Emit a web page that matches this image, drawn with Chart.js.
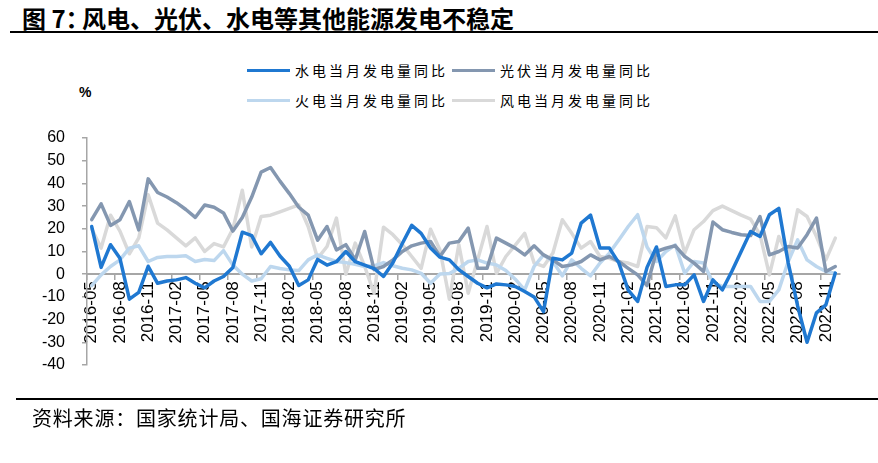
<!DOCTYPE html>
<html>
<head>
<meta charset="utf-8">
<script src="https://cdn.jsdelivr.net/npm/chart.js@4.4.0/dist/chart.umd.min.js"></script>
<style>
  body { margin: 0; background: #fff; }
  #wrap { position: relative; width: 878px; height: 463px; overflow: hidden; background: #fff; }
  #title { position: absolute; left: 22px; top: 0px; font: bold 24px "Noto Sans CJK SC", sans-serif; color: #000; white-space: nowrap; }
  #title .c { letter-spacing: -13px; }
  #rule-top { position: absolute; left: 10px; right: 0; top: 31px; height: 2px; background: #000; }
  #rule-bottom { position: absolute; left: 16px; right: 0; top: 398px; height: 2px; background: #000; }
  #source { position: absolute; left: 32px; top: 403px; font: 20px "Noto Sans CJK SC", sans-serif; color: #000; letter-spacing: 0.8px; white-space: nowrap; }
  #unit { position: absolute; left: 79px; top: 84px; font: bold 14px "Liberation Sans", Arial, sans-serif; color: #000; }
  .leg { position: absolute; height: 20px; display: flex; align-items: center; font: 14px "Noto Sans CJK SC", sans-serif; letter-spacing: 3px; color: #000; white-space: nowrap; }
  .leg i { display: inline-block; width: 43px; height: 3px; margin-right: 5px; }
  canvas { position: absolute; left: 0; top: 0; }
</style>
</head>
<body>
<div id="wrap">
  <div id="title">图 7<span class="c">：</span> 风电、光伏、水电等其他能源发电不稳定</div>
  <div id="rule-top"></div>
  <div id="unit">%</div>
  <div id="legend"></div>
  <canvas id="chart" width="878" height="463"></canvas>
  <div id="rule-bottom"></div>
  <div id="source">资料来源：国家统计局、国海证券研究所</div>
</div>
<script>
// monthly categories, 2016-05 .. 2022-12
const months = [
  "2016-05","2016-06","2016-07","2016-08","2016-09","2016-10","2016-11","2016-12",
  "2017-01","2017-02","2017-03","2017-04","2017-05","2017-06","2017-07","2017-08","2017-09","2017-10","2017-11","2017-12",
  "2018-01","2018-02","2018-03","2018-04","2018-05","2018-06","2018-07","2018-08","2018-09","2018-10","2018-11","2018-12",
  "2019-01","2019-02","2019-03","2019-04","2019-05","2019-06","2019-07","2019-08","2019-09","2019-10","2019-11","2019-12",
  "2020-01","2020-02","2020-03","2020-04","2020-05","2020-06","2020-07","2020-08","2020-09","2020-10","2020-11","2020-12",
  "2021-01","2021-02","2021-03","2021-04","2021-05","2021-06","2021-07","2021-08","2021-09","2021-10","2021-11","2021-12",
  "2022-01","2022-02","2022-03","2022-04","2022-05","2022-06","2022-07","2022-08","2022-09","2022-10","2022-11","2022-12"
];

// 当月发电量同比, %
const hydro = [
  21, 3, 13, 7, -11, -8, 3.5, -4, -3, -2.5,
  -1.5, -4, -6, -3, -1, 3, 18.5, 17, 9, 14,
  8, 3.5, -5, -2.5, 6.5, 4, 5.5, 10, 5.5, 4,
  2.5, -1, 5, 13.5, 21.5, 18, 11.5, 7.5, 6.3, 2,
  -1, -4, -6, -4.3, -4.7, -5.4, -7.6, -10, -16.5, 7,
  6.3, 9.3, 22.5, 26, 11.5, 11.5, 5, -7, -12, 3,
  12, -5.4, -4.7, -4.7, -0.3, -12, -2.5, -6.9, 1.2, 10,
  18.8, 16.6, 26.2, 29, 5, -14, -30, -17, -13.5, 0.5
];
const solar = [
  24, 31, 21.5, 24, 32, 19.5, 42, 36, 34, 31.5,
  28.5, 25, 30.5, 29.5, 27, 19, 25, 34, 45, 47,
  41, 35.5, 29.5, 26, 15, 21, 10.7, 13, 6.3, 18.8,
  2, 3.4, 6.3, 10, 12.5, 13.7, 14.4, 7.8, 13.7, 14.4,
  20.3, 2.6, 2.6, 15.9, 13.7, 11.5, 8.5, 12.5, 8.5, 6.3,
  3.4, 4.1, 5.6, 8.5, 6.3, 7.8, 5.6, 2.6, -0.3, -5,
  10, 11.5, 12.5, 7.8, 4.9, 1.2, 23, 19.6, 18.4, 17.4,
  17, 25.4, 8.5, 10, 12.2, 11.5, 17.4, 24.7, 1.2, 3.4
];
const thermal = [
  -5, -0.3, 3.4, 6.3, 11.5, 12.5, 5.6, 7.4, 7.8, 7.8,
  8.1, 5.6, 6.5, 6, 10.4, 4, 0, -3, -2, 3.4,
  2.5, 1.9, 1.6, 6.3, 8.5, 7, 5.6, 5.1, 4.4, 3.4,
  3.7, 5.1, 3.7, 2.6, 1.9, 0.4, -4, 0.1, 0.3, 2.6,
  5.6, 6.3, 4.9, 4.1, 1.6, -2.2, -6.9, 3.4, 8.5, 5.6,
  -0.7, 6.3, 2.6, -0.7, 4.9, 9.3, 15.1, 21, 26.2, 12,
  5.6, 10, 12.9, 0.4, 5.6, 4.9, -3.7, -5.4, -5.4, -5.4,
  -5.4, -12, -12, -6.9, 5.6, 15.1, 6.3, 3.4, 1.2, 0.4
];
const wind = [
  20, 11.5, 26, 19, 9, 16, 35, 22.5, 19.5, 16,
  12.5, 16, 10, 13.5, 12, 20, 37, 12, 25.4, 26,
  27.5, 29, 30.5, 21, 7, 12.2, 24.7, 0, 13.7, 3.4,
  -8.4, 20.7, 17.4, 13, 7.8, 2.6, 19.8, 10.7, -11, 13,
  -8.4, 6.3, 21, 0.4, 7.8, 12.8, 18, 5, 3.4, 9.3,
  24, 18, 11.5, 14.4, 7.8, 7, 5.6, 4.9, 3.4, 21,
  20.5, 16, 25.7, 9.3, 19.6, 23.2, 28, 30, 28, 26,
  24.3, 17.4, -0.3, 16.6, 7.8, 28.4, 25.4, 16.6, 6.3, 15.9
];

const seriesNames = ["水电当月发电量同比", "光伏当月发电量同比", "火电当月发电量同比", "风电当月发电量同比"];
const seriesColors = ["#1f78d1", "#8497b0", "#bdd7ee", "#d9d9d9"];
const seriesData = [hydro, solar, thermal, wind];

// legend, 2 x 2
const legendPos = [[247, 60], [452, 60], [247, 90], [452, 90]];
const legendEl = document.getElementById("legend");
seriesNames.forEach((name, i) => {
  const d = document.createElement("div");
  d.className = "leg";
  d.style.left = legendPos[i][0] + "px";
  d.style.top = legendPos[i][1] + "px";
  d.innerHTML = '<i style="background:' + seriesColors[i] + '"></i>' + name;
  legendEl.appendChild(d);
});

const axisGray = "#a6a6a6";

new Chart(document.getElementById("chart"), {
  type: "line",
  data: {
    labels: months,
    datasets: seriesData.map((data, i) => ({
      label: seriesNames[i],
      data: data,
      borderColor: seriesColors[i],
      backgroundColor: seriesColors[i],
      borderWidth: 3.5,
      borderJoinStyle: "round",
      borderCapStyle: "round",
      pointRadius: 0,
      tension: 0,
      fill: false
    }))
  },
  options: {
    responsive: false,
    animation: false,
    devicePixelRatio: 1,
    layout: { padding: { left: 0, top: 138, right: 38, bottom: 98 } },
    plugins: { legend: { display: false }, tooltip: { enabled: false } },
    scales: {
      x: {
        position: { y: 0 },
        offset: true,
        grid: {
          offset: true,
          drawOnChartArea: false,
          drawTicks: true,
          tickLength: 5,
          lineWidth: 1.5,
          tickColor: (ctx) => ctx.index % 3 === 0 ? axisGray : "rgba(0,0,0,0)"
        },
        border: { display: true, color: axisGray, width: 2 },
        ticks: {
          autoSkip: false,
          maxRotation: 90,
          minRotation: 90,
          padding: 2,
          color: "#000",
          font: { family: "'Liberation Sans', Arial, sans-serif", size: 17 },
          callback: (v, i) => i % 3 === 0 ? months[i] : ""
        }
      },
      y: {
        min: -40,
        max: 60,
        afterFit: (scale) => { scale.width = 87; },
        grid: { drawOnChartArea: false, drawTicks: true, tickLength: 5, color: axisGray, lineWidth: 1.5 },
        border: { display: true, color: axisGray, width: 1.5 },
        ticks: { stepSize: 10, padding: 17, color: "#000", font: { family: "'Liberation Sans', Arial, sans-serif", size: 16 } }
      }
    }
  }
});
</script>
</body>
</html>
